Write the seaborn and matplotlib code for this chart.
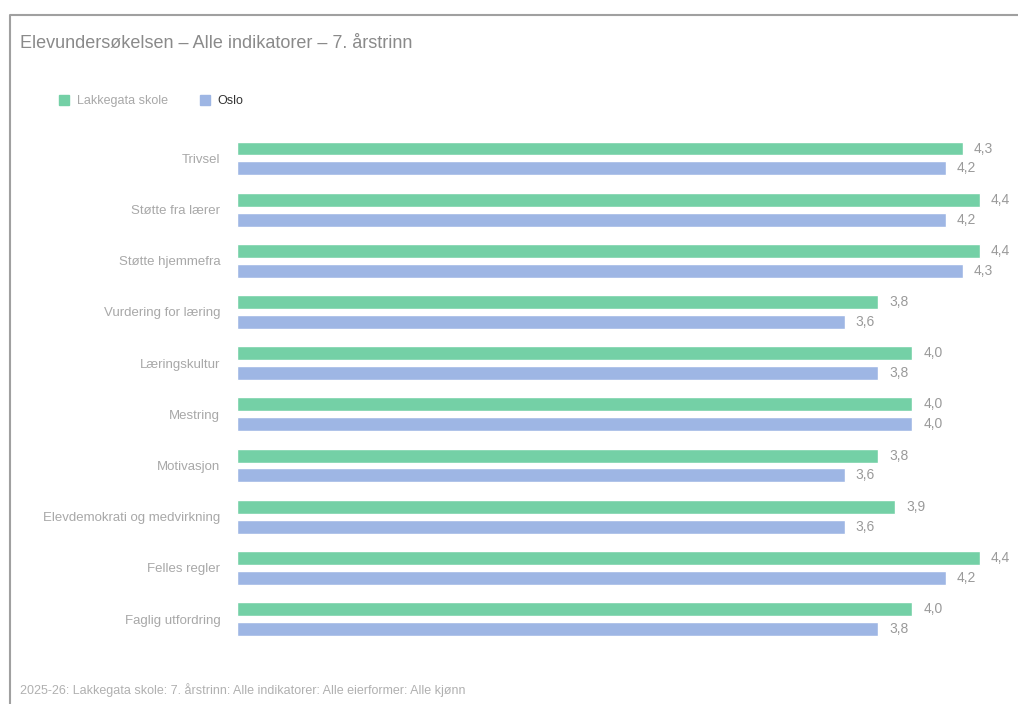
import matplotlib.pyplot as plt
import pandas as pd
import seaborn as sns
from matplotlib.lines import Line2D

# indicators, top to bottom
indicators = [
    "Trivsel",
    "Støtte fra lærer",
    "Støtte hjemmefra",
    "Vurdering for læring",
    "Læringskultur",
    "Mestring",
    "Motivasjon",
    "Elevdemokrati og medvirkning",
    "Felles regler",
    "Faglig utfordring",
]
school_name = "Lakkegata skole"
city_name = "Oslo"
school_values = [4.3, 4.4, 4.4, 3.8, 4.0, 4.0, 3.8, 3.9, 4.4, 4.0]
city_values = [4.2, 4.2, 4.3, 3.6, 3.8, 4.0, 3.6, 3.6, 4.2, 3.8]

title = "Elevundersøkelsen – Alle indikatorer – 7. årstrinn"
footer = "2025-26: Lakkegata skole: 7. årstrinn: Alle indikatorer: Alle eierformer: Alle kjønn"

green = "#74d0a6"
blue = "#9eb6e4"

df = pd.DataFrame({
    "indikator": indicators * 2,
    "verdi": school_values + city_values,
    "enhet": [school_name] * len(indicators) + [city_name] * len(indicators),
})

sns.set_theme(style="white")
plt.rcParams["font.family"] = ["Liberation Sans", "DejaVu Sans"]

fig = plt.figure(figsize=(10.18, 7.04), dpi=100)
ax = fig.add_axes([237 / 1018, 1 - 644.6 / 704, (1000 - 237) / 1018, (644.6 - 132.9) / 704])

sns.barplot(
    data=df, y="indikator", x="verdi", hue="enhet",
    palette=[green, blue], saturation=1, orient="h", width=0.78, gap=0.3,
    order=indicators, ax=ax, legend=False,
)

# value labels
for container in ax.containers:
    labels = [f"{v:.1f}".replace(".", ",") for v in container.datavalues]
    ax.bar_label(container, labels=labels, padding=8, color="#9a9a9a", fontsize=10)

ax.set_xlim(0, 4.52)
ax.set_ylim(9.5, -0.5)
ax.set_xlabel("")
ax.set_ylabel("")
ax.set_xticks([])
ax.tick_params(axis="y", length=0, pad=12, labelsize=9.5, labelcolor="#a8a8a8")
sns.despine(ax=ax, left=True, bottom=True)

# legend
handles = [
    plt.Rectangle((0, 0), 1, 1, color=green),
    plt.Rectangle((0, 0), 1, 1, color=blue),
]
leg = fig.legend(
    handles, [school_name, city_name], loc="center left",
    bbox_to_anchor=(48 / 1018, 1 - 101 / 704), ncol=2, frameon=False,
    fontsize=9, handlelength=0.8, handleheight=0.8, columnspacing=2.6,
    handletextpad=0.6,
)
leg.get_texts()[0].set_color("#a8a8a8")
leg.get_texts()[1].set_color("#333333")

fig.text(20 / 1018, 1 - 44 / 704, title, fontsize=13, color="#8a8a8a",
         va="center", ha="left")
fig.text(20 / 1018, 1 - 690 / 704, footer, fontsize=9, color="#b0b0b0",
         va="center", ha="left")

# card border (top and left edges)
fig.add_artist(Line2D([10 / 1018, 10 / 1018, 1], [0, 1 - 15 / 704, 1 - 15 / 704],
                      transform=fig.transFigure, color="#a0a0a0", lw=1.5))

fig.savefig("out.png", dpi=100, facecolor="white")
